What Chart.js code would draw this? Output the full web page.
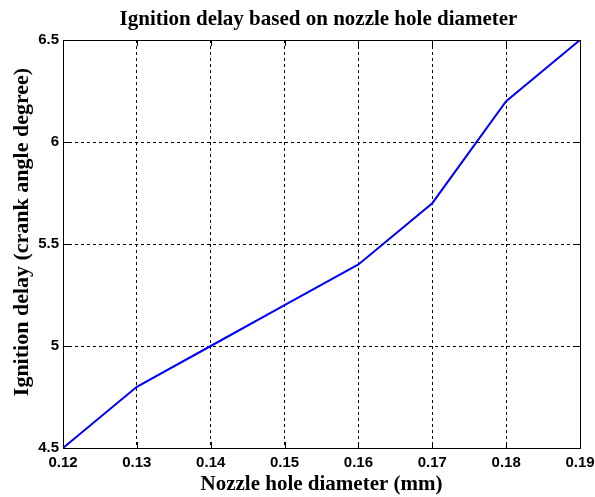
<!DOCTYPE html>
<html>
<head>
<meta charset="utf-8">
<script src="https://cdn.jsdelivr.net/npm/chart.js@4"></script>
<style>
  html, body { margin: 0; padding: 0; background: #fff; }
  #wrap { width: 595px; height: 497px; position: relative; }
</style>
</head>
<body>
<div id="wrap"><canvas id="c" width="595" height="497"></canvas></div>
<script>
// Nozzle hole diameter (mm) against ignition delay (crank angle degree)
const diameters = [0.12, 0.13, 0.14, 0.15, 0.16, 0.17, 0.18, 0.19];
const ignitionDelay = [4.5, 4.8, 5.0, 5.2, 5.4, 5.7, 6.2, 6.5];
const xTicks = [0.12, 0.13, 0.14, 0.15, 0.16, 0.17, 0.18, 0.19];
const yTicks = [4.5, 5, 5.5, 6, 6.5];

const titleText = 'Ignition delay based on nozzle hole diameter';
const xTitle = 'Nozzle hole diameter (mm)';
const yTitle = 'Ignition delay (crank angle degree)';

const serifFamily = '"Liberation Serif", "Times New Roman", serif';
const tickFont = { family: '"Liberation Sans", Arial, sans-serif', size: 15, weight: 'bold' };

// Frame, inward tick marks and text titles in the style of a MATLAB figure
const framePlugin = {
  id: 'frame',
  afterDraw(chart) {
    const { ctx, chartArea: a, scales } = chart;
    ctx.save();
    ctx.strokeStyle = '#000';
    ctx.lineWidth = 1;
    ctx.strokeRect(a.left + 0.5, a.top + 0.5, a.right - a.left, a.bottom - a.top);
    ctx.beginPath();
    const tl = 6;
    xTicks.forEach(v => {
      const x = Math.round(scales.x.getPixelForValue(v)) + 0.5;
      ctx.moveTo(x, a.bottom); ctx.lineTo(x, a.bottom - tl);
      ctx.moveTo(x, a.top); ctx.lineTo(x, a.top + tl);
    });
    yTicks.forEach(v => {
      const y = Math.round(scales.y.getPixelForValue(v)) + 0.5;
      ctx.moveTo(a.left, y); ctx.lineTo(a.left + tl, y);
      ctx.moveTo(a.right, y); ctx.lineTo(a.right - tl, y);
    });
    ctx.stroke();

    ctx.fillStyle = '#000';
    ctx.textAlign = 'center';
    ctx.textBaseline = 'alphabetic';
    ctx.font = 'bold 21px ' + serifFamily;
    ctx.fillText(titleText, (a.left + a.right) / 2 - 3, 25);

    ctx.font = 'bold 22px ' + serifFamily;
    ctx.translate(28, 232);
    ctx.rotate(-Math.PI / 2);
    ctx.fillText(yTitle, 0, 0);
    ctx.restore();
  }
};

new Chart(document.getElementById('c'), {
  type: 'line',
  data: {
    datasets: [{
      data: diameters.map((d, i) => ({ x: d, y: ignitionDelay[i] })),
      borderColor: '#0000ff',
      borderWidth: 2,
      pointRadius: 0,
      tension: 0,
      fill: false
    }]
  },
  options: {
    responsive: false,
    animation: false,
    layout: { padding: { top: 40, right: 15, left: 0, bottom: 0 } },
    plugins: { legend: { display: false }, tooltip: { enabled: false }, title: { display: false } },
    scales: {
      x: {
        type: 'linear',
        min: 0.12, max: 0.19,
        afterBuildTicks: s => { s.ticks = xTicks.map(v => ({ value: v })); },
        afterFit: s => { s.height = 49; s.paddingLeft = 0; s.paddingRight = 0; },
        ticks: {
          color: '#000', font: tickFont, padding: 6, maxRotation: 0,
          callback: v => v.toFixed(2)
        },
        grid: { color: '#000', lineWidth: 1, drawTicks: false },
        border: { display: false, dash: [3, 3] },
        title: {
          display: true, text: xTitle, color: '#000',
          font: { family: serifFamily, size: 21, weight: 'bold' },
          padding: { top: 0, bottom: 0 }
        }
      },
      y: {
        type: 'linear',
        min: 4.5, max: 6.5,
        afterBuildTicks: s => { s.ticks = yTicks.map(v => ({ value: v })); },
        afterFit: s => { s.width = 63; },
        ticks: {
          color: '#000', font: tickFont, padding: 4,
          callback: v => String(v)
        },
        grid: { color: '#000', lineWidth: 1, drawTicks: false },
        border: { display: false, dash: [3, 3] }
      }
    }
  },
  plugins: [framePlugin]
});
</script>
</body>
</html>
